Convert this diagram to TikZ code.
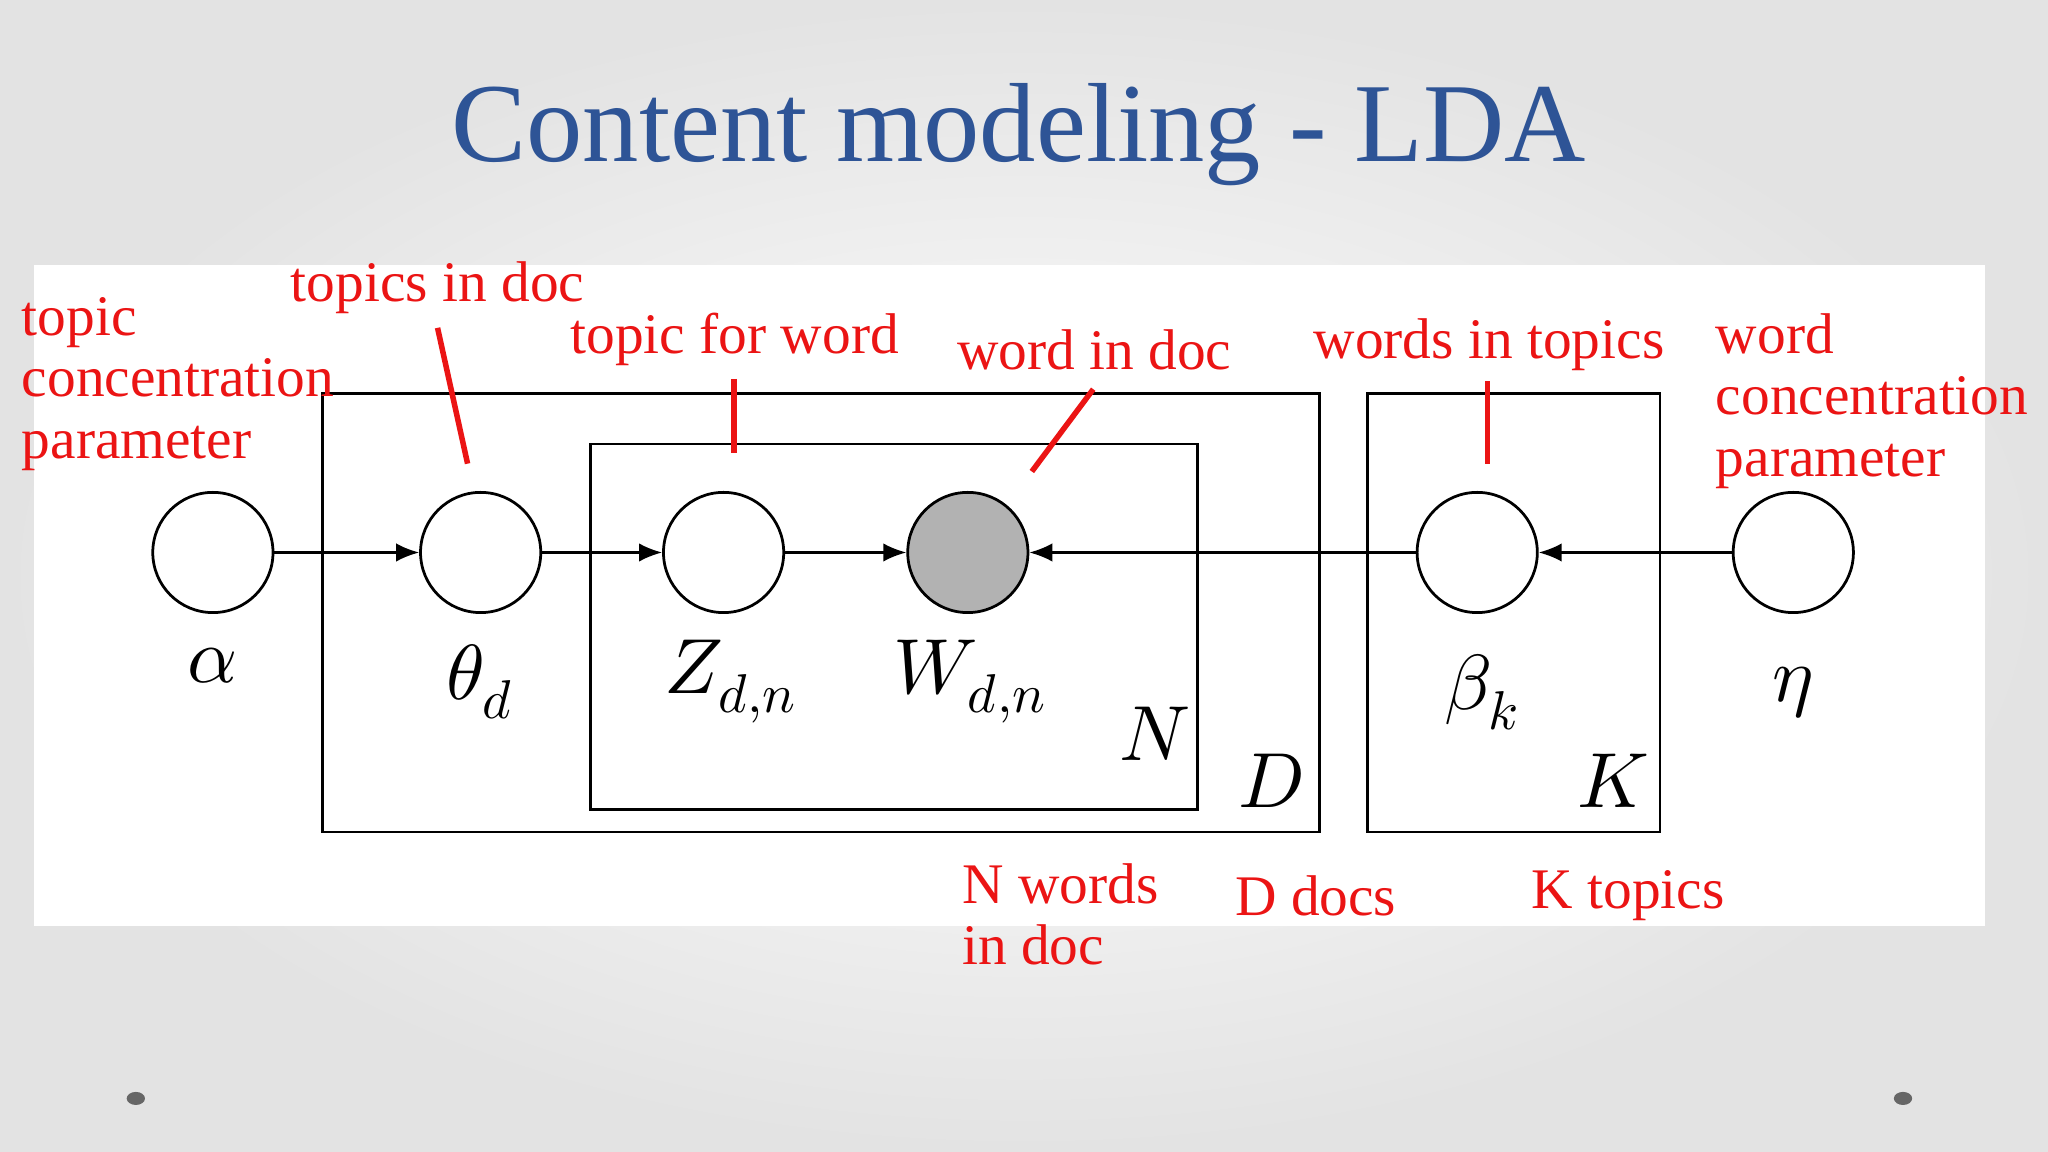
\documentclass[tikz,border=0pt]{standalone}
\usepackage{fontspec}
\setmainfont{Liberation Serif}
\usepackage{unicode-math}
\setmathfont{Latin Modern Math}
\usetikzlibrary{arrows.meta}
\definecolor{titleblue}{RGB}{46,84,150}
\definecolor{lred}{RGB}{235,20,20}
\begin{document}
\begin{tikzpicture}[x=0.01cm,y=-0.01cm,
  var/.style={circle,draw,line width=0.6pt,minimum size=0.92cm,inner sep=0pt},
  plate/.style={draw,line width=0.6pt},
  arr/.style={-{Latex[length=5pt,width=4pt]},line width=0.5pt},
  lbl/.style={text=lred,font=\fontsize{12.5}{13.4}\selectfont,anchor=west,inner sep=0pt},
  mlbl/.style={font=\fontsize{17}{19}\selectfont,inner sep=0pt},
  rline/.style={lred,line width=1.2pt}]
\useasboundingbox (0,0) rectangle (1568,882);
\shade[inner color=white,outer color=gray!22] (0,0) rectangle (1568,882);
\fill[white] (26,203) rectangle (1520,709);
\node[text=titleblue,font=\fontsize{24.5}{28}\selectfont] (title) at (780,103) {Content modeling - LDA};
% plates
\draw[plate] (247,301) rectangle (1010,637);
\draw[plate] (452,340) rectangle (917,620);
\draw[plate] (1047,301) rectangle (1271,637);
% nodes
\node[var] (alpha) at (163,423) {};
\node[var] (theta) at (368,423) {};
\node[var] (z) at (554,423) {};
\node[var,fill=gray!60] (w) at (741,423) {};
\node[var] (beta) at (1131,423) {};
\node[var] (eta) at (1373,423) {};
\draw[arr] (alpha) -- (theta);
\draw[arr] (theta) -- (z);
\draw[arr] (z) -- (w);
\draw[arr] (beta) -- (w);
\draw[arr] (eta) -- (beta);
% math labels
\node[mlbl] (la) at (163,510) {$\alpha$};
\node[mlbl] (lt) at (368,522) {$\theta_d$};
\node[mlbl] (lz) at (560,522) {$Z_{d,n}$};
\node[mlbl] (lw) at (743,522) {$W_{d,n}$};
\node[mlbl] (lb) at (1135,530) {$\beta_k$};
\node[mlbl] (le) at (1373,530) {$\eta$};
\node[mlbl] (pn) at (884,562) {$N$};
\node[mlbl] (pd) at (973,598) {$D$};
\node[mlbl] (pk) at (1235,598) {$K$};
% red lines
\draw[rline] (335,251) -- (358,355);
\draw[rline] (562,290) -- (562,347);
\draw[rline] (837,298) -- (790,361);
\draw[rline] (1139,292) -- (1139,355);
% red text
\node[lbl,align=left] (t1) at (16,294) {topic\\concentration\\parameter};
\node[lbl] (t2) at (222,220) {topics in doc};
\node[lbl] (t3) at (436,260) {topic for word};
\node[lbl] (t4) at (732,268) {word in doc};
\node[lbl] (t5) at (1005,264) {words in topics};
\node[lbl,align=left] (t6) at (1313,307) {word\\concentration\\parameter};
\node[lbl,align=left] (t7) at (736,700) {N words\\in doc};
\node[lbl] (t8) at (945,686) {D docs};
\node[lbl] (t9) at (1172,686) {K topics};
% slide dots
\fill[gray!80!black] (104,841) ellipse (7 and 5);
\fill[gray!80!black] (1457,841) ellipse (7 and 5);
\end{tikzpicture}
\end{document}
